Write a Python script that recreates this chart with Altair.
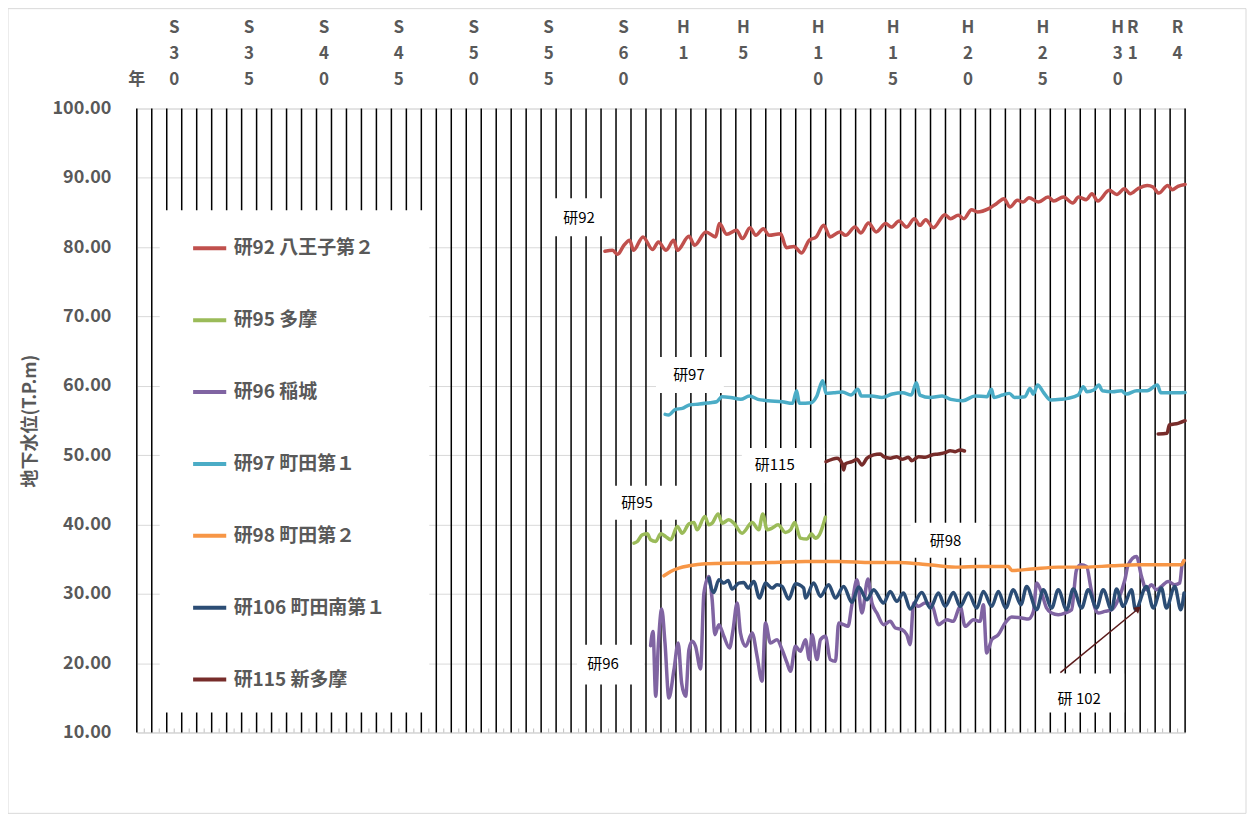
import altair as alt
import pandas as pd

# ---------------- series data (fractional year, groundwater level T.P.m) ----------------
s92_year = [1984.26, 1984.77, 1985.1, 1985.53, 1985.91, 1986.17, 1986.8, 1987.44, 1987.83, 1988.34,
            1988.85, 1989.1, 1989.87, 1990.25, 1991.0, 1991.65, 1991.9, 1992.4, 1993.05, 1993.44,
            1993.95, 1994.33, 1994.84, 1995.22, 1995.99, 1996.37, 1996.88, 1997.39, 1997.9, 1998.36,
            1998.87, 1999.3, 1999.94, 2000.33, 2000.96, 2001.35, 2001.86, 2002.37, 2003.0, 2003.39,
            2003.9, 2004.41, 2004.92, 2005.3, 2005.68, 2006.19, 2006.96, 2007.34, 2007.85, 2008.23,
            2008.74, 2009.13, 2009.89, 2010.4, 2010.91, 2011.3, 2011.8, 2012.19, 2012.57, 2013.2,
            2013.85, 2014.23, 2014.87, 2015.5, 2015.89, 2016.4, 2016.78, 2017.17, 2017.93, 2018.44,
            2018.95, 2019.33, 2019.84, 2020.48, 2020.86, 2021.24, 2021.84, 2022.14, 2022.52, 2023.0]
s92_val = [79.4, 79.55, 78.97, 80.27, 81.0, 79.55, 81.47, 79.65, 80.75, 79.55,
           81.0, 79.55, 81.56, 80.27, 82.2, 81.47, 83.4, 81.85, 82.43, 81.23,
           82.8, 81.7, 82.67, 81.7, 81.95, 79.93, 80.1, 79.17, 81.0, 81.47,
           83.15, 81.47, 82.2, 81.7, 82.9, 82.05, 83.5, 82.2, 83.4, 82.9,
           83.77, 82.9, 84.1, 83.15, 83.97, 82.8, 84.68, 84.1, 84.59, 84.1,
           85.4, 85.07, 85.55, 86.27, 86.99, 85.79, 86.75, 86.5, 87.13, 86.5,
           87.23, 86.65, 87.23, 86.37, 87.23, 86.85, 87.71, 86.65, 88.19, 87.6,
           88.43, 87.71, 88.43, 88.91, 88.67, 87.8, 88.91, 88.29, 88.77, 89.05]

s95_year = [1986.2, 1986.42, 1986.75, 1987.09, 1987.31, 1987.65, 1987.98, 1988.31, 1988.65, 1989.09,
            1989.42, 1989.87, 1990.2, 1990.42, 1990.93, 1991.2, 1991.42, 1991.82, 1992.09, 1992.53,
            1992.87, 1993.42, 1994.09, 1994.53, 1994.8, 1995.09, 1995.42, 1995.82, 1996.31, 1996.65,
            1996.93, 1997.31, 1997.75, 1998.04, 1998.31, 1998.58, 1998.98]
s95_val = [37.31, 37.55, 38.51, 38.65, 37.79, 37.55, 38.65, 38.27, 37.79, 39.7,
           38.75, 40.09, 40.28, 39.23, 41.14, 39.95, 40.19, 41.53, 40.19, 40.67,
           40.19, 38.75, 40.28, 39.23, 41.53, 39.23, 39.47, 39.95, 38.84, 39.23,
           40.28, 38.03, 37.89, 38.65, 38.03, 38.51, 41.05]

s96_year = [1987.31, 1987.47, 1987.65, 1987.82, 1988.05, 1988.27, 1988.53, 1988.87, 1989.15, 1989.38,
            1989.65, 1989.87, 1990.09, 1990.31, 1990.64, 1990.87, 1991.2, 1991.42, 1991.6, 1991.87,
            1992.2, 1992.58, 1992.8, 1993.09, 1993.31, 1993.65, 1994.09, 1994.42, 1994.75, 1994.98,
            1995.31, 1995.75, 1996.09, 1996.42, 1996.65, 1996.98, 1997.31, 1997.65, 1997.91, 1998.09,
            1998.42, 1998.65, 1998.98, 1999.31, 1999.65, 1999.87, 2000.2, 2000.49, 2000.75, 2001.09,
            2001.42, 2001.82, 2002.09, 2002.42, 2002.87, 2003.31, 2003.65, 2004.09, 2004.42, 2004.64,
            2004.87, 2005.2, 2005.64, 2006.09, 2006.53, 2007.09, 2007.53, 2007.98, 2008.31, 2008.87,
            2009.31, 2009.53, 2009.75, 2010.09, 2010.53, 2010.98, 2011.42, 2012.09, 2012.53, 2012.87,
            2013.09, 2013.42, 2013.75, 2014.09, 2014.53, 2014.98, 2015.42, 2015.75, 2016.04, 2016.42,
            2016.71, 2016.98, 2017.2, 2017.64, 2018.09, 2018.53, 2018.98, 2019.2, 2019.75, 2020.09,
            2020.42, 2020.75, 2021.09, 2021.42, 2021.87, 2022.31, 2022.64, 2022.8, 2022.93]
s96_val = [22.52, 24.58, 15.22, 22.43, 27.81, 22.91, 14.99, 19.07, 22.91, 17.15,
           15.22, 21.95, 23.15, 22.43, 19.17, 30.11, 32.5, 29.15, 24.11, 25.55,
           23.87, 22.19, 24.58, 28.67, 24.35, 22.43, 24.35, 20.99, 17.39, 25.79,
           22.91, 23.39, 21.95, 20.03, 18.82, 22.43, 21.71, 23.39, 20.51, 24.11,
           20.51, 23.39, 23.87, 20.51, 20.27, 25.79, 25.55, 25.31, 28.43, 32.03,
           27.23, 32.13, 28.67, 27.23, 25.55, 26.03, 25.07, 24.83, 24.11, 22.67,
           28.67, 28.19, 28.67, 28.43, 25.55, 26.27, 26.03, 28.19, 25.31, 26.27,
           26.03, 28.43, 21.47, 23.39, 24.11, 25.79, 26.65, 26.51, 26.36, 27.45,
           31.55, 30.11, 27.95, 27.23, 26.99, 27.23, 27.71, 33.47, 34.19, 33.95,
           30.83, 27.95, 27.23, 27.47, 27.71, 29.15, 32.03, 34.19, 35.39, 32.5,
           30.59, 31.31, 30.59, 31.07, 31.79, 31.31, 31.55, 34.19, 34.8]

s97_year = [1988.28, 1988.51, 1988.97, 1989.43, 1989.89, 1990.57, 1991.26, 1991.72, 1992.07, 1992.64,
            1993.33, 1993.91, 1994.48, 1995.17, 1996.09, 1996.78, 1997.06, 1997.24, 1998.05, 1998.39,
            1998.8, 1999.03, 1999.54, 2000.11, 2000.69, 2001.15, 2001.38, 2002.07, 2002.76, 2003.45,
            2004.14, 2004.71, 2005.06, 2005.29, 2005.98, 2006.78, 2007.36, 2008.16, 2008.97, 2009.77,
            2010.07, 2010.23, 2010.8, 2011.26, 2011.61, 2012.3, 2012.64, 2012.87, 2013.15, 2013.56,
            2014.02, 2014.71, 2015.17, 2015.86, 2016.21, 2016.44, 2016.9, 2017.24, 2017.47, 2018.16,
            2018.74, 2019.08, 2019.77, 2020.46, 2021.15, 2021.38, 2022.07, 2023.0]
s97_val = [55.88, 55.79, 56.6, 56.75, 57.23, 57.37, 57.57, 57.71, 58.43, 58.33,
           58.05, 58.53, 58.05, 57.85, 57.71, 57.47, 59.29, 57.47, 57.57, 58.43,
           60.73, 58.91, 59.0, 59.1, 58.67, 59.49, 58.53, 58.53, 58.33, 58.81,
           59.0, 58.67, 60.45, 58.67, 58.33, 58.53, 58.05, 57.85, 58.53, 58.43,
           59.49, 58.33, 58.67, 58.91, 58.33, 58.43, 59.63, 58.81, 60.11, 59.0,
           57.95, 58.05, 58.19, 58.67, 59.87, 59.15, 59.39, 60.11, 59.29, 59.15,
           59.29, 58.81, 59.29, 59.29, 60.11, 59.0, 59.0, 59.05]

s98_year = [1988.2, 1988.65, 1989.2, 1989.87, 1990.98, 1993.2, 1995.42, 1997.65, 1999.87, 2002.09,
            2003.87, 2005.2, 2006.53, 2007.87, 2009.2, 2010.53, 2011.2, 2011.42, 2012.75, 2014.53,
            2016.31, 2018.09, 2019.87, 2021.64, 2022.75, 2022.93]
s98_val = [32.6, 33.23, 33.71, 34.04, 34.33, 34.43, 34.52, 34.67, 34.67, 34.52,
           34.52, 34.33, 34.04, 33.85, 33.95, 33.95, 33.95, 33.37, 33.57, 33.85,
           33.85, 34.04, 34.19, 34.19, 34.19, 34.8]

s106_year = [1991.2, 1991.53, 1991.87, 1992.2, 1992.49, 1992.75, 1993.2, 1993.53, 1993.82, 1994.2,
             1994.58, 1994.98, 1995.42, 1995.75, 1996.09, 1996.53, 1996.98, 1997.53, 1997.65, 1998.2,
             1998.65, 1999.2, 1999.65, 2000.2, 2000.75, 2001.2, 2001.75, 2002.2, 2002.87, 2003.31,
             2003.75, 2004.2, 2004.64, 2005.42, 2005.98, 2006.53, 2006.98, 2007.53, 2007.98, 2008.53,
             2009.09, 2009.53, 2010.09, 2010.53, 2011.02, 2011.53, 2012.04, 2012.42, 2013.09, 2013.53,
             2014.09, 2014.53, 2015.09, 2015.53, 2016.09, 2016.53, 2017.09, 2017.53, 2018.09, 2018.42,
             2018.87, 2019.42, 2019.69, 2020.42, 2020.87, 2021.42, 2021.75, 2022.31, 2022.71, 2022.93]
s106_val = [32.27, 30.2, 32.03, 31.55, 31.93, 30.69, 31.55, 31.64, 30.83, 31.78,
            29.39, 31.55, 30.83, 31.31, 31.07, 29.25, 31.45, 30.83, 29.39, 31.55,
            29.63, 31.31, 29.39, 31.07, 28.77, 30.98, 29.15, 30.59, 28.67, 30.35,
            28.91, 30.11, 27.8, 30.2, 27.95, 30.11, 28.19, 30.2, 28.19, 30.11,
            27.95, 30.35, 28.19, 30.35, 27.95, 30.59, 28.43, 31.07, 27.71, 30.59,
            27.95, 30.59, 27.71, 30.69, 27.95, 30.59, 27.95, 30.59, 27.71, 30.69,
            28.19, 30.59, 27.71, 31.07, 27.95, 30.83, 27.95, 31.07, 27.71, 30.11]

# 研115 has two separate records (segment 1 and 2)
s115_year = [1999.02, 1999.42, 1999.75, 2000.09, 2000.2, 2000.31, 2000.75, 2001.09, 2001.42, 2001.75,
             2002.2, 2002.65, 2002.87, 2003.31, 2003.75, 2004.09, 2004.53, 2004.75, 2005.2, 2005.65,
             2006.09, 2006.53, 2006.98, 2007.31, 2007.65, 2007.98, 2008.27,
             2021.2, 2021.79, 2021.95, 2022.53, 2023.0]
s115_val = [49.06, 49.4, 49.55, 48.83, 47.87, 48.73, 49.06, 49.4, 48.59, 49.55,
            50.03, 50.17, 49.78, 49.55, 49.78, 49.4, 49.69, 49.2, 49.78, 49.69,
            50.03, 50.17, 50.36, 50.65, 50.5, 50.75, 50.6,
            53.05, 53.15, 54.35, 54.59, 54.97]
s115_seg = [1] * 27 + [2] * 5

stations = ["研92 八王子第２", "研95 多摩", "研96 稲城", "研97 町田第１",
            "研98 町田第２", "研106 町田南第１", "研115 新多摩"]
colors = ["#C0504D", "#9BBB59", "#8064A2", "#4BACC6", "#F79646", "#2C4D75", "#772C2A"]

# top era labels (year, label)
top_years = [1955, 1960, 1965, 1970, 1975, 1980, 1985, 1989, 1993, 1998, 2003, 2008, 2013, 2018, 2019, 2022]
top_labels = ["S30", "S35", "S40", "S45", "S50", "S55", "S60", "H1", "H5", "H10", "H15", "H20", "H25",
              "H30", "R1", "R4"]

# annotation labels (centre year, level) and their white boxes
ann_text = ["研92", "研97", "研115", "研95", "研98", "研96", "研 102"]
ann_x = [1982.53, 1989.87, 1995.6, 1986.4, 2007.0, 1984.13, 2015.93]
ann_y = [84.16, 61.55, 48.59, 43.12, 37.64, 19.93, 14.89]
# white boxes: annotation boxes + legend panel (last entry)
box_x1 = [1980.73, 1987.67, 1993.4, 1984.67, 2004.67, 1982.4, 2013.27, 1954.53]
box_x2 = [1984.33, 1992.2, 1998.93, 1989.87, 2009.87, 1986.87, 2018.93, 1972.53]
box_y1 = [81.57, 58.96, 46.0, 40.67, 35.2, 16.91, 12.87, 12.88]
box_y2 = [87.04, 64.14, 51.04, 45.57, 40.24, 22.67, 18.49, 85.31]

# arrow for 研102 (tail -> head)
arrow_x1, arrow_y1 = 2014.67, 18.63
arrow_x2, arrow_y2 = 2019.87, 27.85

# ---------------- build tables ----------------
rows = []
def add(name, ys, vs, segs=None):
    for i, (a, b) in enumerate(zip(ys, vs)):
        rows.append({"station": name, "year": a, "value": b,
                     "seg": f"{name}-{segs[i] if segs else 1}"})

add(stations[0], s92_year, s92_val)
add(stations[1], s95_year, s95_val)
add(stations[2], s96_year, s96_val)
add(stations[3], s97_year, s97_val)
add(stations[4], s98_year, s98_val)
add(stations[5], s106_year, s106_val)
add(stations[6], s115_year, s115_val, s115_seg)
df = pd.DataFrame(rows)

W, H = 1050, 625
XMIN, XMAX = 1953, 2023
xs = alt.Scale(domain=[XMIN, XMAX], nice=False, zero=False)
ys = alt.Scale(domain=[10, 100], nice=False, zero=False)
GRAY = "#595959"
FONT = "Noto Sans CJK JP"

bounds = pd.DataFrame({"year": list(range(XMIN, XMAX + 1))})
centers = pd.DataFrame({"year": [y + 0.5 for y in range(XMIN, XMAX)]})

year_rules = alt.Chart(bounds).mark_rule(color="black", strokeWidth=1.5).encode(
    x=alt.X("year:Q", scale=xs, axis=alt.Axis(title=None, labels=False, ticks=False, grid=False,
                                               domain=True, domainColor="#D9D9D9", domainWidth=1)),
    y=alt.value(0), y2=alt.value(H))

small_ticks = alt.Chart(centers).mark_rule(color="#BFBFBF", strokeWidth=1).encode(
    x=alt.X("year:Q", scale=xs), y=alt.value(H - 4), y2=alt.value(H))

boxes = alt.Chart(pd.DataFrame({"x1": box_x1, "x2": box_x2, "y1": box_y1, "y2": box_y2})).mark_rect(
    fill="white").encode(x=alt.X("x1:Q", scale=xs), x2="x2:Q", y=alt.Y("y1:Q", scale=ys), y2="y2:Q")

lines = alt.Chart(df).mark_line(strokeWidth=3.5, interpolate="monotone", strokeJoin="round",
                                strokeCap="round").encode(
    x=alt.X("year:Q", scale=xs),
    y=alt.Y("value:Q", scale=ys,
            axis=alt.Axis(values=list(range(10, 101, 10)), format=".2f", grid=True, gridColor="#D9D9D9",
                          gridWidth=1, domain=False, ticks=False, labelFontSize=18, labelFontWeight="bold",
                          labelColor=GRAY, labelPadding=26, title="地下水位(T.P.m)", titleFontSize=18,
                          titleFontWeight="bold", titleColor=GRAY, titleX=-106, titleY=H / 2,
                          titleBaseline="middle", titleAlign="center")),
    color=alt.Color("station:N", scale=alt.Scale(domain=stations, range=colors),
                    legend=alt.Legend(title=None, orient="none", legendX=54, legendY=121,
                                      padding=0, symbolType="stroke",
                                      symbolStrokeWidth=4, symbolSize=1100, labelFontSize=19,
                                      labelFontWeight="bold", labelColor=GRAY, labelFont=FONT,
                                      rowPadding=43, labelOffset=5, labelLimit=400)),
    detail="seg:N",
    order="year:Q")

arrow_df = pd.DataFrame({"x1": [arrow_x1], "y1": [arrow_y1], "x2": [arrow_x2], "y2": [arrow_y2]})
arrow_line = alt.Chart(arrow_df).mark_rule(color="#5A1A1A", strokeWidth=1.5).encode(
    x=alt.X("x1:Q", scale=xs), y=alt.Y("y1:Q", scale=ys), x2="x2:Q", y2="y2:Q")
arrow_head = alt.Chart(arrow_df).mark_point(shape="triangle-up", angle=51, filled=True, size=60,
                                            color="#5A1A1A", opacity=1).encode(
    x=alt.X("x2:Q", scale=xs), y=alt.Y("y2:Q", scale=ys))

ann = alt.Chart(pd.DataFrame({"t": ann_text, "x": ann_x, "y": ann_y})).mark_text(
    fontSize=15, color="#000000", font=FONT).encode(
    x=alt.X("x:Q", scale=xs), y=alt.Y("y:Q", scale=ys), text="t:N")

top_df = pd.DataFrame({"x": [y + 0.5 for y in top_years], "t": ["\n".join(list(s)) for s in top_labels]})
top = alt.Chart(top_df).mark_text(fontSize=17, fontWeight="bold", color=GRAY, font=FONT, baseline="top",
                                  lineBreak="\n", lineHeight=26).encode(
    x=alt.X("x:Q", scale=xs), y=alt.value(-89), text="t:N")
nen = alt.Chart(pd.DataFrame({"x": [XMIN], "t": ["年"]})).mark_text(
    fontSize=17, fontWeight="bold", color=GRAY, font=FONT, baseline="middle").encode(
    x=alt.X("x:Q", scale=xs), y=alt.value(-29), text="t:N")

border = alt.Chart(pd.DataFrame({"a": [0]})).mark_rect(fill=None, stroke="#D9D9D9", strokeWidth=1).encode(
    x=alt.value(-129), x2=alt.value(W + 61), y=alt.value(-100), y2=alt.value(H + 81))

chart = alt.layer(border, year_rules, small_ticks, boxes, lines, arrow_line, arrow_head, ann, top, nen).properties(
    width=W, height=H,
    autosize=alt.AutoSizeParams(type="none"),
    padding={"left": 129, "top": 100, "right": 62, "bottom": 82},
    background="white",
).configure_view(stroke=None).configure(font=FONT)

chart.save("out.html", embed_options={"renderer": "svg", "actions": False})
